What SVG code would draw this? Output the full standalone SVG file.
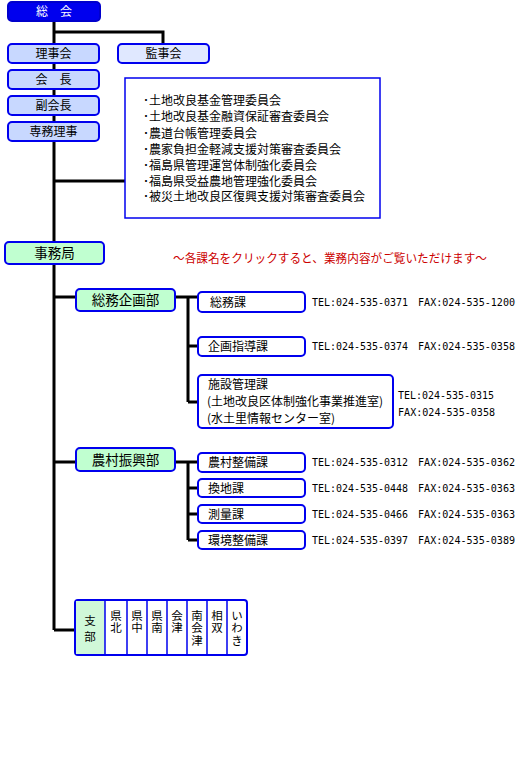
<svg xmlns="http://www.w3.org/2000/svg" width="520" height="770" viewBox="0 0 520 770">
<style>
.jp{font-family:"Noto Sans CJK JP","Noto Sans",sans-serif;font-size:12px;fill:#000}
.c{text-anchor:middle}
.big{font-size:13.5px}
.vt{font-size:11.5px;writing-mode:vertical-rl;letter-spacing:1px}
.tel{font-family:"DejaVu Sans Mono","Liberation Mono",monospace;font-size:10px;fill:#000}
.ln{stroke:#000;stroke-width:3;fill:none}
.b1{fill:#c8d8ff;stroke:#0000ee;stroke-width:2}
.b2{fill:#e0e8ff;stroke:#0000ee;stroke-width:2}
.bg{fill:#c0ffd0;stroke:#0000ee;stroke-width:2}
.bw{fill:#fff;stroke:#0000ee;stroke-width:2}
.div{stroke:#0000ee;stroke-width:1.5}
</style>
<rect width="520" height="770" fill="#fff"/>
<g id="connectors">
<path class="ln" d="M54 21V630M54 32H163V44M54 181H125M54 297H76M175 297H198M188 297V402M188 346H198M188 402H198M54 462H76M175 462H198M188 462V540M188 488H198M188 514H198M188 540H198M54 630H75"/>
</g>
<g id="soukai"><rect x="8" y="2" width="92" height="19" rx="4" fill="#0000ee" stroke="#0000cc" stroke-width="2"/><text class="jp c" x="54" y="16" style="fill:#fff">総　会</text></g>
<g id="rijikai"><rect class="b1" x="8" y="44" width="91" height="19" rx="4"/><text class="jp c" x="53.5" y="58">理事会</text></g>
<g id="kanjikai"><rect class="b2" x="118" y="44" width="91" height="19" rx="4"/><text class="jp c" x="163.5" y="58">監事会</text></g>
<g id="kaicho"><rect class="b1" x="8" y="70" width="91" height="19" rx="4"/><text class="jp c" x="53.5" y="84">会　長</text></g>
<g id="fukukaicho"><rect class="b1" x="8" y="96" width="91" height="19" rx="4"/><text class="jp c" x="53.5" y="110">副会長</text></g>
<g id="senmuriji"><rect class="b1" x="8" y="122" width="91" height="19" rx="4"/><text class="jp c" x="53.5" y="136">専務理事</text></g>
<g id="iinkai"><rect x="125" y="78" width="255" height="140" fill="#fff" stroke="#0000ee" stroke-width="1.5"/>
<text class="jp" x="143" y="104.5">･土地改良基金管理委員会</text>
<text class="jp" x="143" y="120.5">･土地改良基金融資保証審査委員会</text>
<text class="jp" x="143" y="137.5">･農道台帳管理委員会</text>
<text class="jp" x="143" y="153.5">･農家負担金軽減支援対策審査委員会</text>
<text class="jp" x="143" y="169.5">･福島県管理運営体制強化委員会</text>
<text class="jp" x="143" y="185.5">･福島県受益農地管理強化委員会</text>
<text class="jp" x="143" y="201">･被災土地改良区復興支援対策審査委員会</text>
</g>
<g id="jimukyoku"><rect class="bg" x="5" y="242" width="99" height="22" rx="4"/><text class="jp c big" x="54.5" y="258">事務局</text></g>
<g id="note"><text class="jp" x="173" y="262.5" style="fill:#cc0000" textLength="314" lengthAdjust="spacingAndGlyphs">～各課名をクリックすると、業務内容がご覧いただけます～</text></g>
<g id="somukikakubu"><rect class="bg" x="76" y="289" width="99" height="22" rx="4"/><text class="jp c big" x="125.5" y="305">総務企画部</text></g>
<g id="somuka"><rect class="bw" x="198" y="292" width="107" height="20" rx="4"/><text class="jp" x="210" y="306.5">総務課</text>
<text class="tel" x="312" y="305.5" textLength="96" lengthAdjust="spacingAndGlyphs">TEL:024-535-0371</text><text class="tel" x="418" y="305.5" textLength="97" lengthAdjust="spacingAndGlyphs">FAX:024-535-1200</text></g>
<g id="kikakushidoka"><rect class="bw" x="198" y="337" width="107" height="19" rx="4"/><text class="jp" x="208" y="351">企画指導課</text>
<text class="tel" x="312" y="350" textLength="96" lengthAdjust="spacingAndGlyphs">TEL:024-535-0374</text><text class="tel" x="418" y="350" textLength="97" lengthAdjust="spacingAndGlyphs">FAX:024-535-0358</text></g>
<g id="shisetsukanrika"><rect class="bw" x="198" y="375" width="195" height="53" rx="4"/>
<text class="jp" x="208" y="388.5">施設管理課</text>
<text class="jp" x="207" y="406">(土地改良区体制強化事業推進室)</text>
<text class="jp" x="207" y="422.5">(水土里情報センター室)</text>
<text class="tel" x="398" y="398.5" textLength="96" lengthAdjust="spacingAndGlyphs">TEL:024-535-0315</text><text class="tel" x="398" y="415.5" textLength="97" lengthAdjust="spacingAndGlyphs">FAX:024-535-0358</text></g>
<g id="nosonshinkobu"><rect class="bg" x="76" y="448" width="99" height="23" rx="4"/><text class="jp c big" x="125.5" y="464.5">農村振興部</text></g>
<g id="nosonseibika"><rect class="bw" x="198" y="453" width="107" height="19" rx="4"/><text class="jp" x="208" y="467">農村整備課</text>
<text class="tel" x="312" y="466" textLength="96" lengthAdjust="spacingAndGlyphs">TEL:024-535-0312</text><text class="tel" x="418" y="466" textLength="97" lengthAdjust="spacingAndGlyphs">FAX:024-535-0362</text></g>
<g id="kanchika"><rect class="bw" x="198" y="479" width="107" height="18" rx="4"/><text class="jp" x="208" y="492.5">換地課</text>
<text class="tel" x="312" y="491.5" textLength="96" lengthAdjust="spacingAndGlyphs">TEL:024-535-0448</text><text class="tel" x="418" y="491.5" textLength="97" lengthAdjust="spacingAndGlyphs">FAX:024-535-0363</text></g>
<g id="sokuryoka"><rect class="bw" x="198" y="505" width="107" height="18" rx="4"/><text class="jp" x="208" y="518.5">測量課</text>
<text class="tel" x="312" y="517.5" textLength="96" lengthAdjust="spacingAndGlyphs">TEL:024-535-0466</text><text class="tel" x="418" y="517.5" textLength="97" lengthAdjust="spacingAndGlyphs">FAX:024-535-0363</text></g>
<g id="kankyoseibika"><rect class="bw" x="198" y="531" width="107" height="18" rx="4"/><text class="jp" x="208" y="544.5">環境整備課</text>
<text class="tel" x="312" y="543.5" textLength="96" lengthAdjust="spacingAndGlyphs">TEL:024-535-0397</text><text class="tel" x="418" y="543.5" textLength="97" lengthAdjust="spacingAndGlyphs">FAX:024-535-0389</text></g>
<g id="shibu">
<rect x="75" y="600" width="172" height="55" rx="3" fill="#fff" stroke="#0000ee" stroke-width="2"/>
<rect x="76" y="601" width="29" height="53" fill="#d0f8d8"/>
<path class="div" d="M105 600V655M127 600V655M147 600V655M167 600V655M187 600V655M207 600V655M227 600V655"/>
<text class="jp vt" x="90" y="615" style="letter-spacing:4.5px">支部</text>
<text class="jp vt" x="116" y="609.5">県北</text>
<text class="jp vt" x="137" y="609.5">県中</text>
<text class="jp vt" x="157" y="609.5">県南</text>
<text class="jp vt" x="177" y="609.5">会津</text>
<text class="jp vt" x="197" y="609.5">南会津</text>
<text class="jp vt" x="217" y="609.5">相双</text>
<text class="jp vt" x="237" y="609.5">いわき</text>
</g>
</svg>
